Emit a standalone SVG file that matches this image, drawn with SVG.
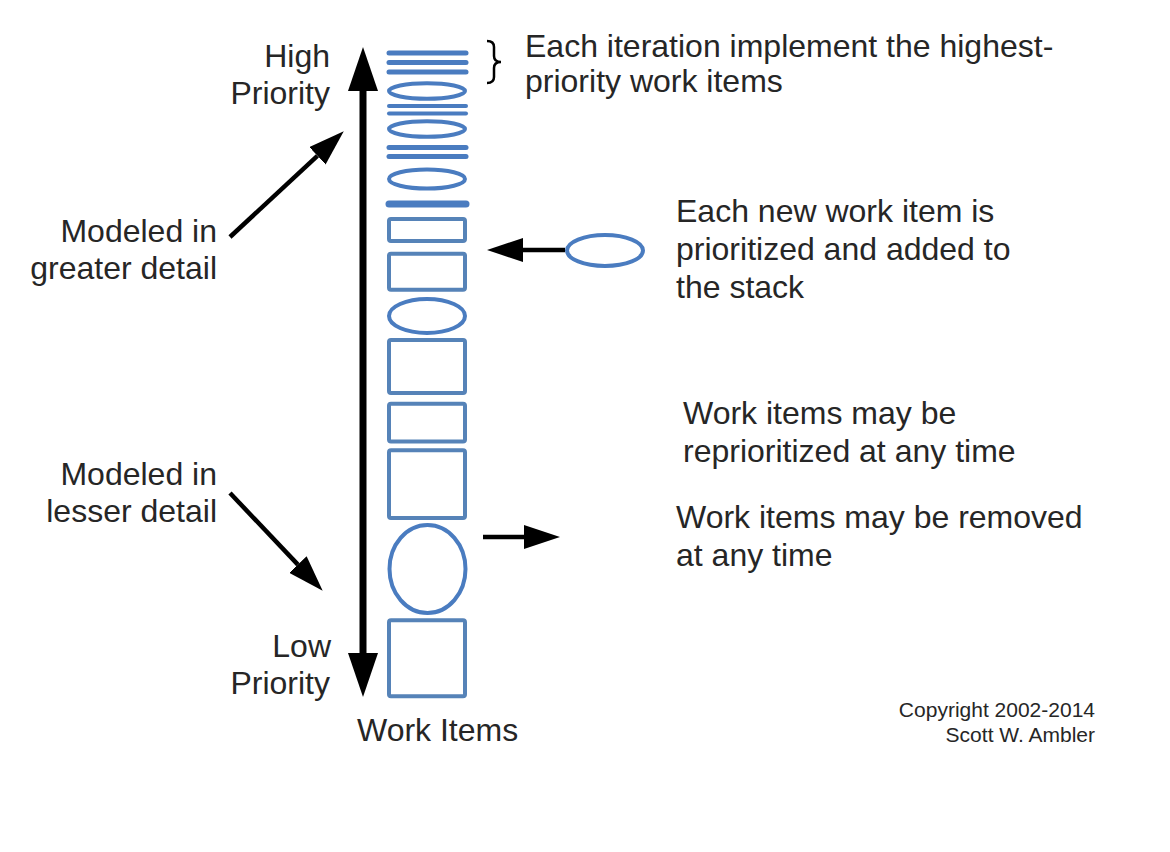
<svg xmlns="http://www.w3.org/2000/svg" width="1170" height="852" viewBox="0 0 1170 852">
<style>
  .t { font-family: "Liberation Sans", Arial, sans-serif; font-size: 32px; fill: #262626; }
  .r { text-anchor: end; }
  .c { font-family: "Liberation Sans", Arial, sans-serif; font-size: 21px; fill: #262626; text-anchor: end; }
  .bar { stroke: #4a7cc0; stroke-width: 5; stroke-linecap: round; fill: none; }
  .ell { stroke: #4a7cc0; stroke-width: 4; fill: none; }
  .box { stroke: #5683b8; stroke-width: 4; fill: none; }
  .ln { stroke: #000; stroke-width: 4.5; fill: none; }
  .big { stroke: #000; stroke-width: 7; fill: none; }
</style>
<defs>
  <marker id="ah" markerUnits="userSpaceOnUse" markerWidth="36" markerHeight="24" refX="0" refY="12" orient="auto" viewBox="0 0 36 24">
    <path d="M0,0 L36,12 L0,24 z" fill="#000"/>
  </marker>
  <marker id="ahBig" markerUnits="userSpaceOnUse" markerWidth="44" markerHeight="30" refX="0" refY="15" orient="auto-start-reverse" viewBox="0 0 44 30">
    <path d="M0,0 L44,15 L0,30 z" fill="#000"/>
  </marker>
</defs>
<rect width="1170" height="852" fill="#fff"/>

<g id="stack">
  <line class="bar" x1="389" y1="53" x2="466" y2="53"/>
  <line class="bar" x1="389" y1="62.5" x2="466" y2="62.5"/>
  <line class="bar" x1="389" y1="72" x2="466" y2="72"/>
  <ellipse class="ell" cx="427" cy="91" rx="38" ry="7.8"/>
  <line class="bar" x1="389" y1="106" x2="466" y2="106" style="stroke-width:4"/>
  <line class="bar" x1="389" y1="113.5" x2="466" y2="113.5" style="stroke-width:4"/>
  <ellipse class="ell" cx="427" cy="129" rx="38" ry="7.8"/>
  <line class="bar" x1="389" y1="147.5" x2="466" y2="147.5"/>
  <line class="bar" x1="389" y1="156.5" x2="466" y2="156.5"/>
  <ellipse class="ell" cx="427" cy="179" rx="38" ry="9.5"/>
  <line class="bar" x1="389" y1="204" x2="466" y2="204" style="stroke-width:7"/>
  <rect class="box" x="389" y="219" width="76" height="22" rx="2"/>
  <rect class="box" x="389" y="253.7" width="76" height="36" rx="2"/>
  <ellipse class="ell" cx="427" cy="316" rx="38" ry="17"/>
  <rect class="box" x="389" y="340" width="76" height="53" rx="2"/>
  <rect class="box" x="389" y="403.7" width="76" height="37.7" rx="2"/>
  <rect class="box" x="389" y="450.3" width="76" height="67.7" rx="2"/>
  <ellipse class="ell" cx="427.5" cy="569" rx="38" ry="44"/>
  <rect class="box" x="389" y="620.3" width="76" height="76" rx="2"/>
</g>

<g id="new-item">
  <ellipse class="ell" cx="605" cy="250.5" rx="38" ry="15.5"/>
</g>

<g id="brace">
  <path d="M487,41 Q494,41 494,47 L494,56 Q494,62 501,62 Q494,62 494,68 L494,77 Q494,83 487,83" fill="none" stroke="#000" stroke-width="2.5"/>
</g>

<g id="connectors">
  <line class="big" x1="363" y1="91" x2="363" y2="653" marker-start="url(#ahBig)" marker-end="url(#ahBig)"/>
  <line class="ln" x1="230" y1="237" x2="317.4" y2="155.8" marker-end="url(#ah)"/>
  <line class="ln" x1="230" y1="493" x2="297.9" y2="564.6" marker-end="url(#ah)"/>
  <line class="ln" x1="565" y1="250" x2="523" y2="250" marker-end="url(#ah)"/>
  <line class="ln" x1="483" y1="537" x2="524" y2="537" marker-end="url(#ah)"/>
</g>

<g id="labels">
  <text class="t r" x="330" y="67">High</text>
  <text class="t r" x="330" y="104">Priority</text>
  <text class="t r" x="217" y="242">Modeled in</text>
  <text class="t r" x="217" y="279">greater detail</text>
  <text class="t r" x="217" y="485">Modeled in</text>
  <text class="t r" x="217" y="522">lesser detail</text>
  <text class="t r" x="331" y="657">Low</text>
  <text class="t r" x="330" y="694">Priority</text>
  <text class="t" x="357" y="741">Work Items</text>
  <text class="t" x="525" y="57">Each iteration implement the highest-</text>
  <text class="t" x="525" y="92">priority work items</text>
  <text class="t" x="676" y="222">Each new work item is</text>
  <text class="t" x="676" y="260">prioritized and added to</text>
  <text class="t" x="676" y="298">the stack</text>
  <text class="t" x="683" y="424">Work items may be</text>
  <text class="t" x="683" y="462">reprioritized at any time</text>
  <text class="t" x="676" y="528">Work items may be removed</text>
  <text class="t" x="676" y="566">at any time</text>
  <text class="c" x="1095" y="717">Copyright 2002-2014</text>
  <text class="c" x="1095" y="742">Scott W. Ambler</text>
</g>
</svg>
